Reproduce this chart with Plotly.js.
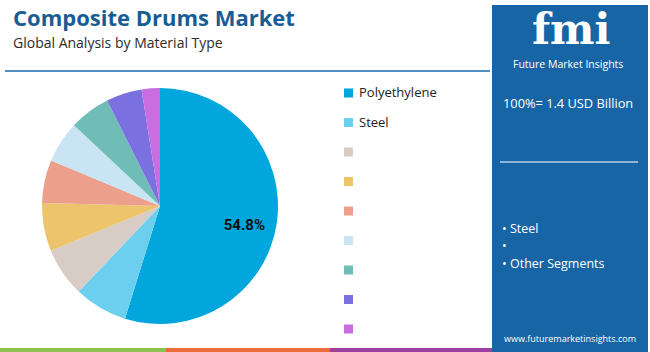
<!DOCTYPE html>
<html>
<head>
<meta charset="utf-8">
<script src="https://cdn.plot.ly/plotly-3.0.1.min.js"></script>
<style>html,body{margin:0;padding:0;background:#fff;}#chart{width:650px;height:352px;}</style>
</head>
<body>
<div id="chart"></div>
<script>
// ---- data ----
const segmentLabels = ["Polyethylene", "Steel", " ", "  ", "   ", "    ", "     ", "      ", "       "];
const segmentValues = [54.8, 7.3, 6.7, 6.6, 5.9, 5.7, 5.6, 4.9, 2.5];
const segmentColors = ["#00a6dc", "#6dcff0", "#d8ccc7", "#edc46b", "#eca08b", "#c9e5f3", "#70bdb8", "#7b70e0", "#c96de0"];
const shownLabel = [true, false, false, false, false, false, false, false, false];
const sideBullets = ["• Steel", "•", "• Other Segments"];
const totalText = "100%= 1.4 USD Billion";

const W = 650, H = 352;
const px = x => x / W;
const py = y => 1 - y / H;
const pad = "&nbsp;".repeat(14);

const trace = {
  type: "pie",
  labels: segmentLabels,
  values: segmentValues,
  sort: false,
  direction: "clockwise",
  rotation: 0,
  marker: { colors: segmentColors, line: { width: 0 } },
  texttemplate: shownLabel.map(s => s ? " <br>" + pad + "<b>%{percent:.1%}</b>" : ""),
  textposition: "inside",
  insidetextorientation: "horizontal",
  textfont: { family: "Roboto, Arial, sans-serif", size: 15, color: "#111" },
  hoverinfo: "label+percent",
  showlegend: false,
  domain: { x: [px(42), px(278)], y: [py(324), py(88)] }
};

const shapes = [];
const annotations = [];

// top rule
shapes.push({ type: "line", xref: "paper", yref: "paper", x0: px(5), x1: px(490), y0: py(71), y1: py(71), line: { color: "#5090c2", width: 2 } });
// bottom colour strip
shapes.push({ type: "rect", xref: "paper", yref: "paper", x0: 0, x1: px(166), y0: py(352), y1: py(348), fillcolor: "#8cc152", line: { width: 0 } });
shapes.push({ type: "rect", xref: "paper", yref: "paper", x0: px(166), x1: px(330), y0: py(352), y1: py(348), fillcolor: "#ec6b3c", line: { width: 0 } });
shapes.push({ type: "rect", xref: "paper", yref: "paper", x0: px(330), x1: px(495), y0: py(352), y1: py(348), fillcolor: "#9b3fa0", line: { width: 0 } });
// right panel
shapes.push({ type: "rect", xref: "paper", yref: "paper", x0: px(492), x1: px(648), y0: py(352), y1: py(5), fillcolor: "#1865a5", line: { width: 0 } });
shapes.push({ type: "line", xref: "paper", yref: "paper", x0: px(500), x1: px(638), y0: py(162), y1: py(162), line: { color: "#b9d3ea", width: 1.5 } });

// titles
annotations.push({ xref: "paper", yref: "paper", x: px(11), y: py(17), xanchor: "left", yanchor: "middle", showarrow: false,
  text: "<b>Composite Drums Market</b>", font: { family: "Open Sans, Arial, sans-serif", size: 22, color: "#175d92" } });
annotations.push({ xref: "paper", yref: "paper", x: px(11), y: py(42), xanchor: "left", yanchor: "middle", showarrow: false,
  text: "Global Analysis by Material Type", font: { family: "Open Sans, Arial, sans-serif", size: 14, color: "#2b2b2b" } });

// manual legend built from the data arrays
segmentLabels.forEach((lab, i) => {
  const cy = 93 + i * 29.5;
  shapes.push({ type: "rect", xref: "paper", yref: "paper", x0: px(344), x1: px(353), y0: py(cy + 4.5), y1: py(cy - 4.5), fillcolor: segmentColors[i], line: { width: 0 } });
  if (lab.trim() !== "") {
    annotations.push({ xref: "paper", yref: "paper", x: px(357), y: py(cy - 1), xanchor: "left", yanchor: "middle", showarrow: false,
      text: lab, font: { family: "Open Sans, Arial, sans-serif", size: 13, color: "#222" } });
  }
});

// panel texts
annotations.push({ xref: "paper", yref: "paper", x: px(571), y: py(30), xanchor: "center", yanchor: "middle", showarrow: false,
  text: "<b>fmi</b>", font: { family: "DejaVu Serif, serif", size: 42, color: "#ffffff" } });
annotations.push({ xref: "paper", yref: "paper", x: px(568), y: py(64), xanchor: "center", yanchor: "middle", showarrow: false,
  text: "Future Market Insights", font: { family: "Open Sans, Arial, sans-serif", size: 10.5, color: "#ffffff" } });
annotations.push({ xref: "paper", yref: "paper", x: px(501), y: py(103), xanchor: "left", yanchor: "middle", showarrow: false,
  text: totalText, font: { family: "Open Sans, Arial, sans-serif", size: 12.8, color: "#ffffff" } });
sideBullets.forEach((b, i) => {
  annotations.push({ xref: "paper", yref: "paper", x: px(500), y: py(228 + i * 17.5), xanchor: "left", yanchor: "middle", showarrow: false,
    text: b, font: { family: "Open Sans, Arial, sans-serif", size: 12.5, color: "#ffffff" } });
});
annotations.push({ xref: "paper", yref: "paper", x: px(570), y: py(338), xanchor: "center", yanchor: "middle", showarrow: false,
  text: "www.futuremarketinsights.com", font: { family: "Open Sans, Arial, sans-serif", size: 9, color: "#ffffff" } });

const layout = {
  width: W, height: H,
  margin: { l: 0, r: 0, t: 0, b: 0 },
  paper_bgcolor: "#ffffff",
  showlegend: false,
  shapes: shapes,
  annotations: annotations
};

Plotly.newPlot("chart", [trace], layout, { displayModeBar: false, staticPlot: true });
</script>
</body>
</html>
